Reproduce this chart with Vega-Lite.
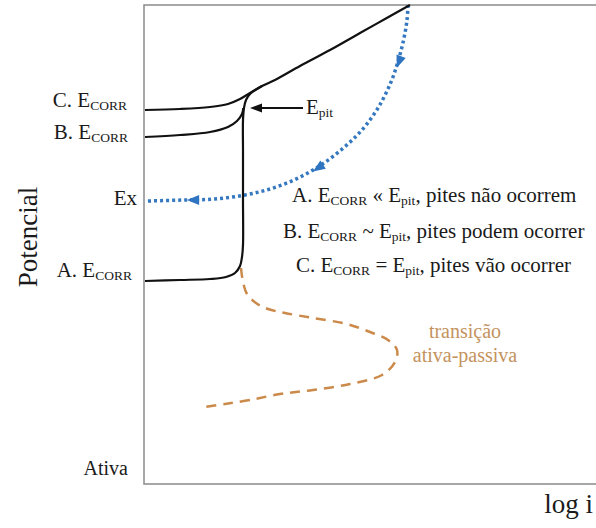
{
  "$schema": "https://vega.github.io/schema/vega-lite/v6.json",
  "width": 454,
  "height": 479,
  "autosize": {"type": "none"},
  "padding": {"left": 144, "top": 5, "right": 0, "bottom": 44},
  "background": "white",
  "config": {
    "view": {"stroke": "#8a8a8a", "strokeWidth": 1.5},
    "font": "Liberation Serif",
    "text": {"font": "Liberation Serif", "color": "#1a1a1a"}
  },
  "datasets": {
    "black": [
      {"s": "A", "i": 0, "x": 1, "y": 203},
      {"s": "A", "i": 1, "x": 36, "y": 204},
      {"s": "A", "i": 2, "x": 66, "y": 205},
      {"s": "A", "i": 3, "x": 82, "y": 207},
      {"s": "A", "i": 4, "x": 91, "y": 211},
      {"s": "A", "i": 5, "x": 96, "y": 218},
      {"s": "A", "i": 6, "x": 98, "y": 227},
      {"s": "A", "i": 7, "x": 99, "y": 239},
      {"s": "A", "i": 8, "x": 99, "y": 284},
      {"s": "A", "i": 9, "x": 99, "y": 334},
      {"s": "A", "i": 10, "x": 99, "y": 364},
      {"s": "A", "i": 11, "x": 100, "y": 376},
      {"s": "A", "i": 12, "x": 102, "y": 384},
      {"s": "A", "i": 13, "x": 106, "y": 390},
      {"s": "A", "i": 14, "x": 118, "y": 398},
      {"s": "A", "i": 15, "x": 131, "y": 404},
      {"s": "A", "i": 16, "x": 156, "y": 418},
      {"s": "A", "i": 17, "x": 186, "y": 434},
      {"s": "A", "i": 18, "x": 216, "y": 451},
      {"s": "A", "i": 19, "x": 241, "y": 465},
      {"s": "A", "i": 20, "x": 266, "y": 479},
      {"s": "C", "i": 0, "x": 1, "y": 374},
      {"s": "C", "i": 1, "x": 36, "y": 375},
      {"s": "C", "i": 2, "x": 66, "y": 377},
      {"s": "C", "i": 3, "x": 84, "y": 380},
      {"s": "C", "i": 4, "x": 96, "y": 385},
      {"s": "C", "i": 5, "x": 106, "y": 391},
      {"s": "C", "i": 6, "x": 118, "y": 398},
      {"s": "B", "i": 0, "x": 1, "y": 347},
      {"s": "B", "i": 1, "x": 36, "y": 349},
      {"s": "B", "i": 2, "x": 66, "y": 352},
      {"s": "B", "i": 3, "x": 84, "y": 357},
      {"s": "B", "i": 4, "x": 93, "y": 363},
      {"s": "B", "i": 5, "x": 98, "y": 370},
      {"s": "B", "i": 6, "x": 99.3, "y": 376},
      {"s": "P", "i": 0, "x": 159, "y": 376},
      {"s": "P", "i": 1, "x": 114, "y": 376}
    ],
    "blue": [
      {"i": 0, "x": 264, "y": 479},
      {"i": 1, "x": 263, "y": 464},
      {"i": 2, "x": 260, "y": 446},
      {"i": 3, "x": 255, "y": 426},
      {"i": 4, "x": 247, "y": 402},
      {"i": 5, "x": 234, "y": 376},
      {"i": 6, "x": 217, "y": 353},
      {"i": 7, "x": 197, "y": 334},
      {"i": 8, "x": 174, "y": 317},
      {"i": 9, "x": 150, "y": 304},
      {"i": 10, "x": 126, "y": 295},
      {"i": 11, "x": 101, "y": 289},
      {"i": 12, "x": 71, "y": 285},
      {"i": 13, "x": 41, "y": 284},
      {"i": 14, "x": 2, "y": 283}
    ],
    "blueHeads": [
      {"x": 255, "y": 422, "dir": 200},
      {"x": 174, "y": 316, "dir": 236},
      {"x": 49, "y": 284, "dir": 270}
    ],
    "blackHeads": [
      {"x": 112, "y": 376, "dir": 270}
    ],
    "orange": [
      {"i": 0, "x": 97, "y": 216},
      {"i": 1, "x": 99, "y": 202},
      {"i": 2, "x": 103, "y": 190},
      {"i": 3, "x": 112, "y": 181},
      {"i": 4, "x": 124, "y": 175},
      {"i": 5, "x": 141, "y": 171},
      {"i": 6, "x": 169, "y": 166},
      {"i": 7, "x": 203, "y": 160},
      {"i": 8, "x": 226, "y": 152},
      {"i": 9, "x": 244, "y": 144},
      {"i": 10, "x": 253, "y": 134},
      {"i": 11, "x": 251, "y": 122},
      {"i": 12, "x": 238, "y": 109},
      {"i": 13, "x": 206, "y": 100},
      {"i": 14, "x": 169, "y": 94},
      {"i": 15, "x": 136, "y": 90},
      {"i": 16, "x": 106, "y": 84},
      {"i": 17, "x": 81, "y": 80},
      {"i": 18, "x": 61, "y": 77}
    ],
    "mainText": [
      {"t": "A. E", "x": 148, "y": 282},
      {"t": "« E", "x": 228.6, "y": 282},
      {"t": ", pites não ocorrem", "x": 271.4, "y": 282},
      {"t": "B. E", "x": 139, "y": 246},
      {"t": "~ E", "x": 218.4, "y": 246},
      {"t": ", pites podem ocorrer", "x": 262, "y": 246},
      {"t": "C. E", "x": 152, "y": 212},
      {"t": "= E", "x": 231.4, "y": 212},
      {"t": ", pites vão ocorrer", "x": 275.5, "y": 212},
      {"t": "E", "x": 162, "y": 370}
    ],
    "subText": [
      {"t": "CORR", "x": 186.5, "y": 279},
      {"t": "pit", "x": 257.1, "y": 279},
      {"t": "CORR", "x": 176.3, "y": 243},
      {"t": "pit", "x": 247.8, "y": 243},
      {"t": "CORR", "x": 189.3, "y": 209},
      {"t": "pit", "x": 261.3, "y": 209},
      {"t": "pit", "x": 174.8, "y": 367}
    ],
    "leftMain": [
      {"t": "C. E", "x": -53.8, "y": 377},
      {"t": "B. E", "x": -52.8, "y": 345},
      {"t": "A. E", "x": -48.8, "y": 207},
      {"t": "Ex", "x": -7, "y": 279}
    ],
    "leftSub": [
      {"t": "CORR", "x": -17, "y": 374},
      {"t": "CORR", "x": -16, "y": 342},
      {"t": "CORR", "x": -12, "y": 204}
    ],
    "ativa": [{"t": "Ativa", "x": -16, "y": 9}],
    "yTitle": [{"t": "Potencial", "x": -107, "y": 247}],
    "xTitle": [{"t": "log i", "x": 449, "y": -29}],
    "trans": [
      {"t": "transição", "x": 321, "y": 146},
      {"t": "ativa-passiva", "x": 321, "y": 122}
    ]
  },
  "encoding": {
    "x": {"field": "x", "type": "quantitative", "scale": {"domain": [0, 454], "nice": false, "zero": false}, "axis": null},
    "y": {"field": "y", "type": "quantitative", "scale": {"domain": [0, 479], "nice": false, "zero": false}, "axis": null}
  },
  "layer": [
    {
      "data": {"name": "orange"},
      "mark": {"type": "line", "color": "#CB8A4A", "strokeWidth": 2.5, "strokeDash": [10, 7], "interpolate": "catmull-rom"},
      "encoding": {"order": {"field": "i", "type": "quantitative"}}
    },
    {
      "data": {"name": "blue"},
      "mark": {"type": "line", "color": "#3478C0", "strokeWidth": 3.5, "strokeDash": [3, 3], "interpolate": "catmull-rom"},
      "encoding": {"order": {"field": "i", "type": "quantitative"}}
    },
    {
      "data": {"name": "black"},
      "mark": {"type": "line", "color": "#111111", "strokeWidth": 2.2, "interpolate": "catmull-rom"},
      "encoding": {
        "detail": {"field": "s", "type": "nominal"},
        "order": {"field": "i", "type": "quantitative"}
      }
    },
    {
      "data": {"name": "blueHeads"},
      "mark": {"type": "point", "shape": "M0,-1L0.8,1L-0.8,1Z", "filled": true, "opacity": 1, "color": "#2F74C0", "size": 150},
      "encoding": {"angle": {"field": "dir", "type": "quantitative", "scale": null}}
    },
    {
      "data": {"name": "blackHeads"},
      "mark": {"type": "point", "shape": "M0,-1L0.75,1L-0.75,1Z", "filled": true, "opacity": 1, "color": "#111111", "size": 144},
      "encoding": {"angle": {"field": "dir", "type": "quantitative", "scale": null}}
    },
    {
      "data": {"name": "mainText"},
      "mark": {"type": "text", "font": "Liberation Serif", "align": "left", "baseline": "alphabetic", "fontSize": 21},
      "encoding": {"text": {"field": "t"}}
    },
    {
      "data": {"name": "subText"},
      "mark": {"type": "text", "font": "Liberation Serif", "align": "left", "baseline": "alphabetic", "fontSize": 13.5},
      "encoding": {"text": {"field": "t"}}
    },
    {
      "data": {"name": "leftMain"},
      "mark": {"type": "text", "font": "Liberation Serif", "align": "right", "baseline": "alphabetic", "fontSize": 21},
      "encoding": {"text": {"field": "t"}}
    },
    {
      "data": {"name": "leftSub"},
      "mark": {"type": "text", "font": "Liberation Serif", "align": "right", "baseline": "alphabetic", "fontSize": 13.5},
      "encoding": {"text": {"field": "t"}}
    },
    {
      "data": {"name": "ativa"},
      "mark": {"type": "text", "font": "Liberation Serif", "align": "right", "baseline": "alphabetic", "fontSize": 20},
      "encoding": {"text": {"field": "t"}}
    },
    {
      "data": {"name": "yTitle"},
      "mark": {"type": "text", "font": "Liberation Serif", "align": "center", "baseline": "alphabetic", "fontSize": 27, "angle": 270},
      "encoding": {"text": {"field": "t"}}
    },
    {
      "data": {"name": "xTitle"},
      "mark": {"type": "text", "font": "Liberation Serif", "align": "right", "baseline": "alphabetic", "fontSize": 27},
      "encoding": {"text": {"field": "t"}}
    },
    {
      "data": {"name": "trans"},
      "mark": {"type": "text", "font": "Liberation Serif", "align": "center", "baseline": "alphabetic", "fontSize": 20, "color": "#C4935E"},
      "encoding": {"text": {"field": "t"}}
    }
  ]
}
